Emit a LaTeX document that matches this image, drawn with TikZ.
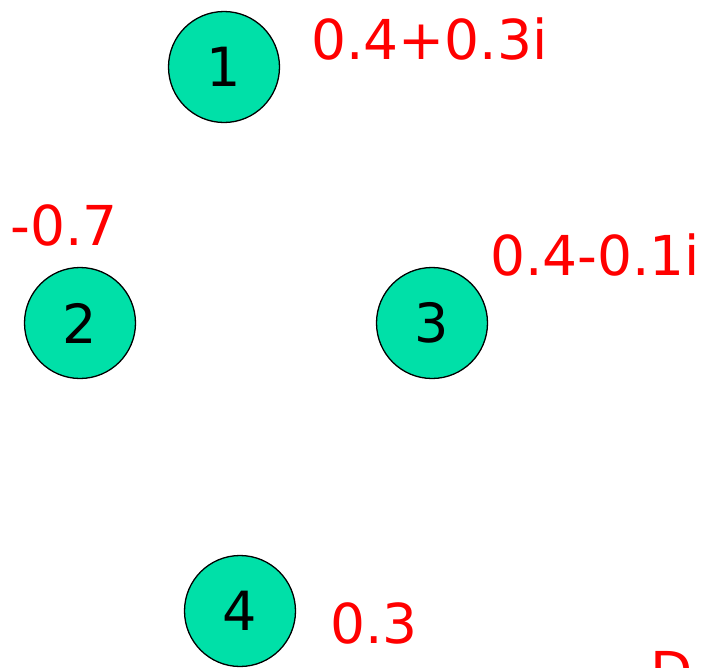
\documentclass[tikz,border=0pt]{standalone}
\usepackage{fontspec}
\setmainfont{DejaVu Sans}
\definecolor{nodegreen}{HTML}{00E0A8}
\definecolor{lblred}{HTML}{FF0000}
\begin{document}
\begin{tikzpicture}[x=1pt,y=-1pt,
  vert/.style={circle,draw=black,line width=1.3pt,fill=nodegreen,minimum size=111pt,inner sep=0pt,font=\fontsize{54}{64}\selectfont},
  lbl/.style={anchor=base west,inner sep=0pt,text=lblred,font=\fontsize{55}{66}\selectfont}]
\useasboundingbox (0,0) rectangle (712,667);
\clip (0,0) rectangle (712,667);
\node[vert] (n1) at (224,67) {1};
\node[vert] (n2) at (80,323) {2};
\node[vert] (n3) at (432,323) {3};
\node[vert] (n4) at (240,611) {4};
\node[lbl] (l1) at (311,59) {0.4+0.3i};
\node[lbl] (l2) at (10,245) {-0.7};
\node[lbl] (l3) at (490,275) {0.4-0.1i};
\node[lbl] (l4) at (330,643) {0.3};
\node[lbl] (l5) at (650,691) {D};
\end{tikzpicture}
\end{document}
